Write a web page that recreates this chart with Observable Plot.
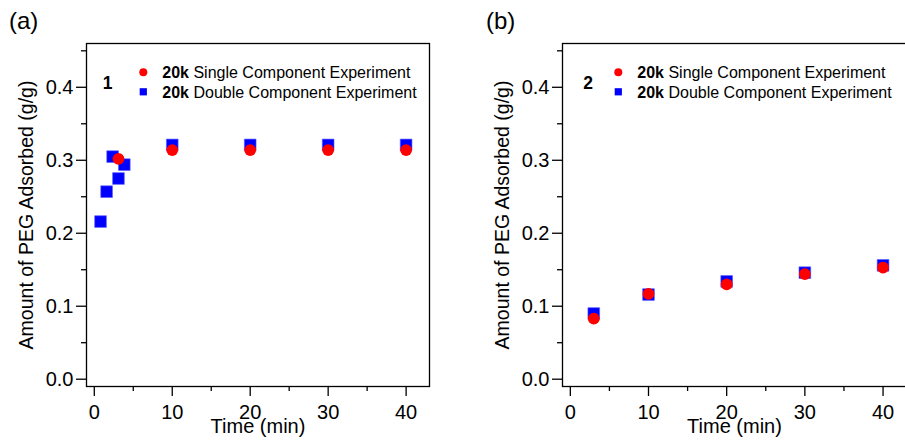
<!DOCTYPE html>
<html>
<head>
<meta charset="utf-8">
<script src="https://cdn.jsdelivr.net/npm/d3@7"></script>
<script src="https://cdn.jsdelivr.net/npm/@observablehq/plot@0.6"></script>
<style>
  html, body { margin: 0; padding: 0; background: #fff; overflow: hidden; }
  #fig { position: relative; width: 905px; height: 445px; overflow: hidden; background: #fff;
         font-family: "Liberation Sans", Arial, Helvetica, sans-serif; color: #000; }
  .panel { position: absolute; top: 0; }
  .panel svg { max-width: none !important; }
  .panel svg g[aria-label$="tick label"] text { font-size: 20px; }
  .tag { position: absolute; top: 9px; font-size: 24px; line-height: 1; }
</style>
</head>
<body>
<div id="fig">
  <div class="tag" style="left:9px">(a)</div>
  <div class="tag" style="left:486px">(b)</div>
</div>
<script>
// ---- data ----
const panelATimesSingle = [3.1, 10, 20, 30, 40];
const panelAValuesSingle = [0.302, 0.314, 0.314, 0.314, 0.314];
const panelATimesDouble = [0.8, 1.58, 2.35, 3.1, 3.85, 10, 20, 30, 40];
const panelAValuesDouble = [0.216, 0.257, 0.305, 0.275, 0.294, 0.321, 0.321, 0.321, 0.321];

const panelBTimes = [3, 10, 20, 30, 40];
const panelBValuesSingle = [0.083, 0.117, 0.130, 0.144, 0.153];
const panelBValuesDouble = [0.090, 0.116, 0.134, 0.146, 0.156];

const xTicks = [0, 10, 20, 30, 40];
const xMinorTicks = [5, 15, 25, 35];
const yTicks = [0.0, 0.1, 0.2, 0.3, 0.4];
const yMinorTicks = [0.05, 0.15, 0.25, 0.35, 0.45];

const legendPrefix = "20k";
const legendLabels = ["Single Component Experiment", "Double Component Experiment"];
const panelNumbers = ["1", "2"];
const xTitle = "Time (min)";
const yTitle = "Amount of PEG Adsorbed (g/g)";

const RED = "#ff0000", BLUE = "#0000ff";
const FONT = '"Liberation Sans", Arial, Helvetica, sans-serif';

function makePanel({width, marginLeft, marginRight, tSingle, vSingle, tDouble, vDouble, number, numDx, legDx}) {
  const single = tSingle.map((t, i) => ({t, v: vSingle[i]}));
  const dbl = tDouble.map((t, i) => ({t, v: vDouble[i]}));
  const svg = Plot.plot({
    width, height: 445,
    marginLeft, marginRight, marginTop: 43, marginBottom: 59,
    style: {fontFamily: FONT, fontSize: "20px", color: "#000", background: "transparent", overflow: "visible", maxWidth: "none"},
    x: {domain: [-1, 43]},
    y: {domain: [-0.01, 0.46]},
    marks: [
      Plot.axisY({ticks: yTicks, tickSize: 10, tickPadding: 3, tickFormat: d3.format(".1f"), label: null, strokeWidth: 1.3, fontSize: 20}),
      Plot.axisY({ticks: yMinorTicks, tickSize: 5, tickFormat: () => "", label: null, strokeWidth: 1.3}),
      Plot.axisX({ticks: xTicks, tickSize: 10, tickPadding: 8, label: null, strokeWidth: 1.3, fontSize: 20}),
      Plot.axisX({ticks: xMinorTicks, tickSize: 5, tickFormat: () => "", label: null, strokeWidth: 1.3}),
      Plot.frame({stroke: "#000", strokeWidth: 1.3}),
      Plot.dot(dbl, {x: "t", y: "v", symbol: "square", r: 6.6, fill: BLUE, stroke: "#5a5aff", strokeWidth: 0.6}),
      Plot.dot(single, {x: "t", y: "v", symbol: "circle", r: 5.9, fill: RED}),
      Plot.text([xTitle], {frameAnchor: "bottom", textAnchor: "middle", lineAnchor: "bottom", dy: 46, fontSize: 20}),
      Plot.text([yTitle], {frameAnchor: "left", textAnchor: "middle", lineAnchor: "middle", rotate: -90, dx: -60, fontSize: 19.5})
    ]
  });
  // legend and panel number inside the frame
  const s = d3.select(svg);
  const x0 = marginLeft, y0 = 43;
  s.append("text").attr("x", x0 + numDx).attr("y", y0 + 46).attr("text-anchor", "middle")
    .attr("font-family", FONT).attr("font-size", 17.5).attr("font-weight", "bold").text(number);
  const rows = [29.3, 48.8];
  s.append("circle").attr("cx", x0 + legDx).attr("cy", y0 + rows[0]).attr("r", 4).attr("fill", RED);
  s.append("rect").attr("x", x0 + legDx - 3.6).attr("y", y0 + rows[1] - 3.6).attr("width", 7.2).attr("height", 7.2).attr("fill", BLUE);
  legendLabels.forEach((lab, i) => {
    const t = s.append("text").attr("x", x0 + legDx + 19).attr("y", y0 + rows[i] + 5.7)
      .attr("text-anchor", "start").attr("font-family", FONT).attr("font-size", 16);
    t.append("tspan").attr("font-weight", "bold").text(legendPrefix);
    t.append("tspan").text(" " + lab);
  });
  return svg;
}

const fig = document.getElementById("fig");

const a = makePanel({width: 452, marginLeft: 86, marginRight: 23,
  tSingle: panelATimesSingle, vSingle: panelAValuesSingle,
  tDouble: panelATimesDouble, vDouble: panelAValuesDouble,
  number: panelNumbers[0], numDx: 21.5, legDx: 57.3});
const wa = document.createElement("div"); wa.className = "panel"; wa.style.left = "0px"; wa.style.width = "452px";
wa.appendChild(a); fig.appendChild(wa);

const b = makePanel({width: 464, marginLeft: 110, marginRight: 10,
  tSingle: panelBTimes, vSingle: panelBValuesSingle,
  tDouble: panelBTimes, vDouble: panelBValuesDouble,
  number: panelNumbers[1], numDx: 26, legDx: 56.3});
const wb = document.createElement("div"); wb.className = "panel"; wb.style.left = "452px"; wb.style.width = "464px";
wb.appendChild(b); fig.appendChild(wb);
</script>
</body>
</html>
